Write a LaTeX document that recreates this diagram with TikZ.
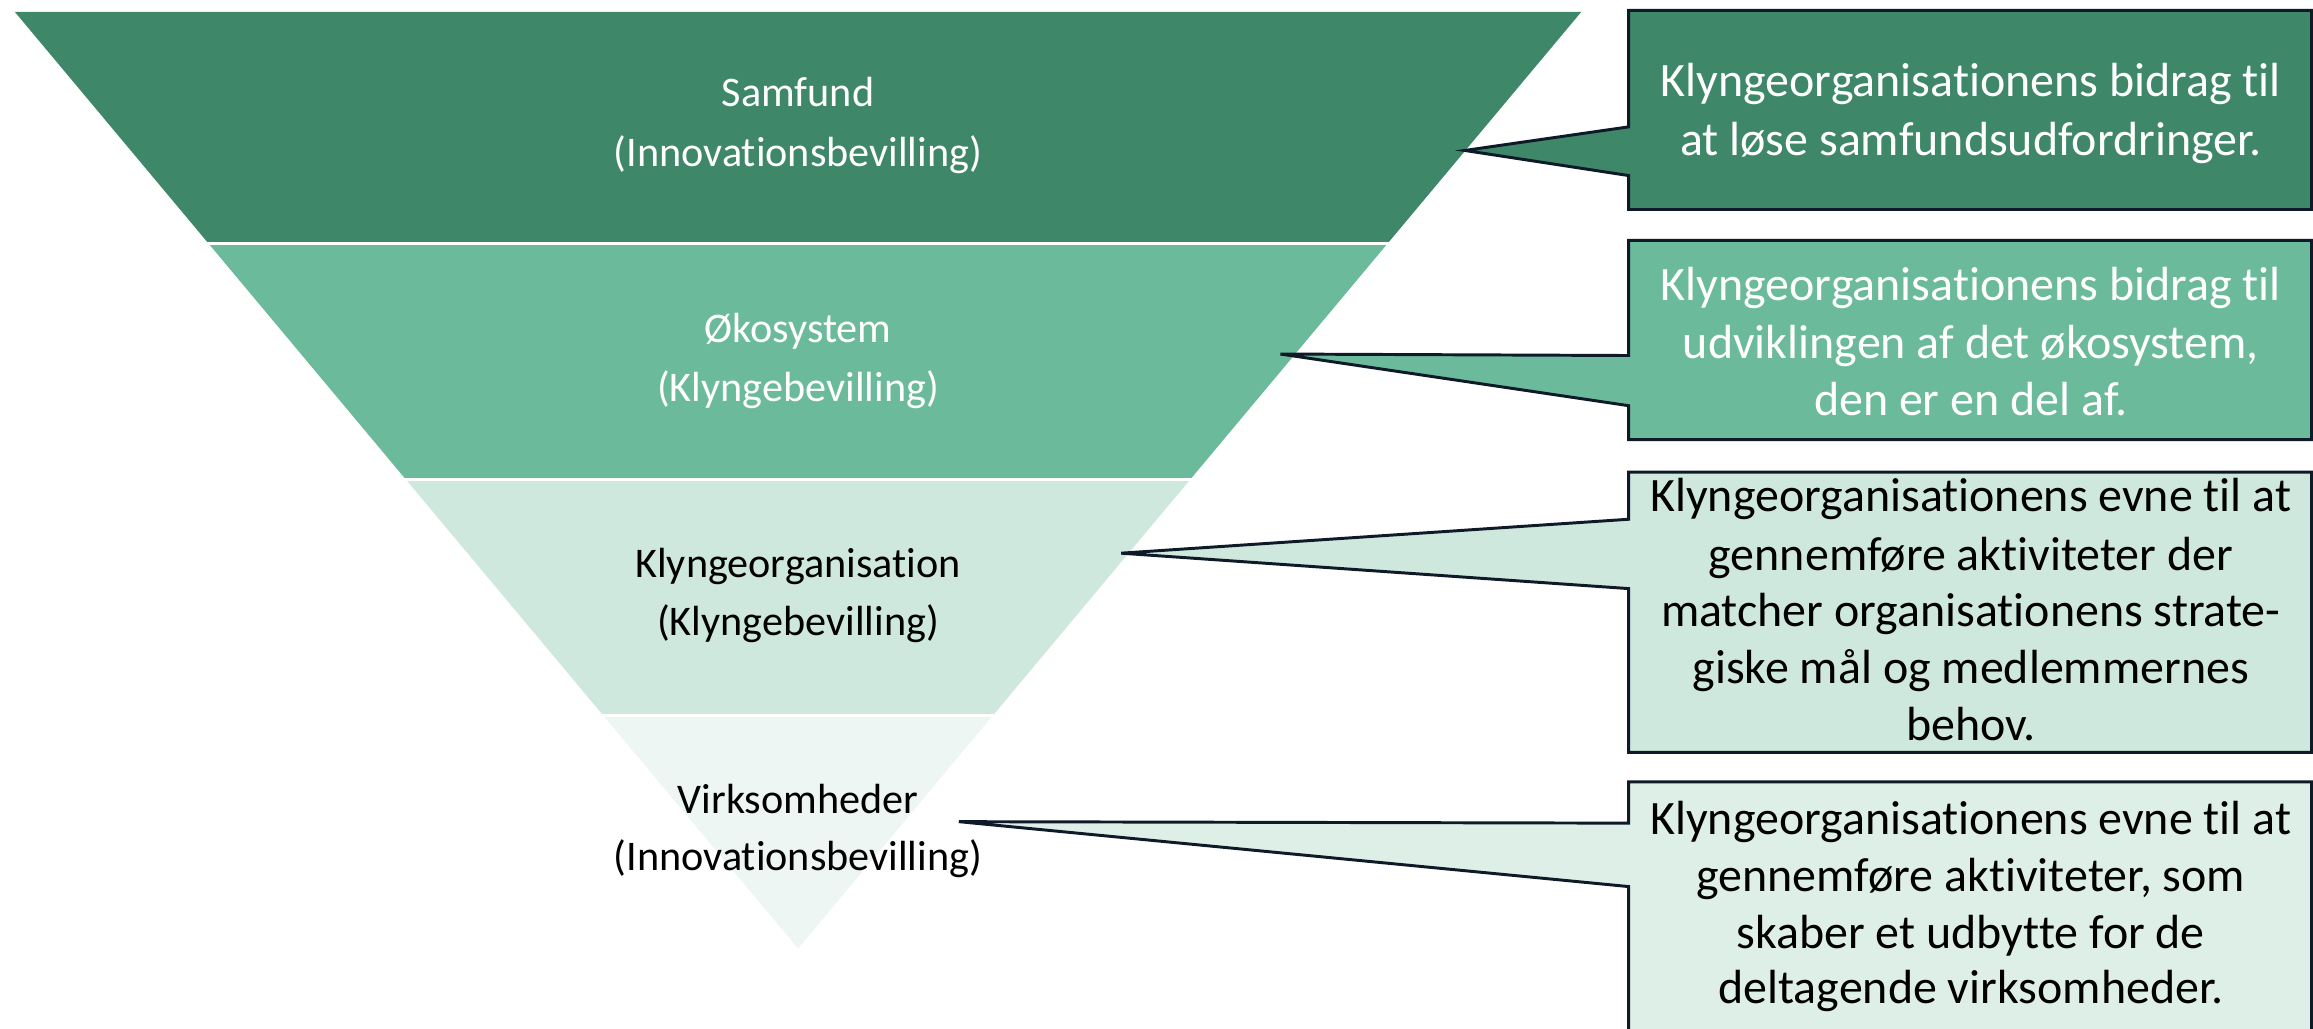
\documentclass[tikz,border=0pt]{standalone}
\usepackage{fontspec}
\setmainfont{Carlito}[Ligatures=NoCommon]
\definecolor{bandA}{HTML}{3E8769}
\definecolor{bandB}{HTML}{6CBA9C}
\definecolor{bandC}{HTML}{CFE8DE}
\definecolor{bandD}{HTML}{EDF6F2}
\definecolor{boxD}{HTML}{DEEFE7}
\definecolor{edge}{HTML}{0E1A28}
\tikzset{
  gap/.style={draw=white, line width=2pt},
  callout/.style={draw=edge, line width=2pt, line join=miter},
  triline/.style={anchor=base, font=\fontsize{28.6}{40}\selectfont, inner sep=0pt},
  boxline/.style={anchor=base, font=\fontsize{32.5}{39}\selectfont, inner sep=0pt},
}
\begin{document}
\begin{tikzpicture}[x=1pt,y=-1pt]
\useasboundingbox (0,0) rectangle (1568,697);
% funnel bands
\fill[bandA] (10,8) -- (1072,8) -- (940.7,165) -- (141.3,165) -- cycle;
\fill[bandB] (141.3,165) -- (940.7,165) -- (806.9,325) -- (275.1,325) -- cycle;
\fill[bandC] (275.1,325) -- (806.9,325) -- (673.1,485) -- (408.9,485) -- cycle;
\fill[bandD] (408.9,485) -- (673.1,485) -- (541,643) -- cycle;
\draw[gap] (130,165) -- (950,165);
\draw[gap] (260,325) -- (820,325);
\draw[gap] (395,485) -- (690,485);
% funnel labels
\node[triline, text=white] (t1a) at (541,72.3) {Samfund};
\node[triline, text=white] (t1b) at (541,113) {(Innovationsbevilling)};
\node[triline, text=white] (t2a) at (541,232) {Økosystem};
\node[triline, text=white] (t2b) at (541,272) {(Klyngebevilling)};
\node[triline, text=black] (t3a) at (541,391.5) {Klyngeorganisation};
\node[triline, text=black] (t3b) at (541,431) {(Klyngebevilling)};
\node[triline, text=black] (t4a) at (541,551.4) {Virksomheder};
\node[triline, text=black] (t4b) at (541,589.8) {(Innovationsbevilling)};
% pointer tips
\coordinate (p1) at (993,102);
\coordinate (p2) at (868,240);
\coordinate (p3) at (760,375);
\coordinate (p4) at (650,557);
% callouts
\filldraw[callout, fill=bandA] (1104,7) -- (1567,7) -- (1567,142) -- (1104,142) -- (1104,119) -- (p1) -- (1104,86) -- cycle;
\filldraw[callout, fill=bandB] (1104,163) -- (1567,163) -- (1567,298) -- (1104,298) -- (1104,275) -- (p2) -- (1104,241) -- cycle;
\filldraw[callout, fill=bandC] (1104,320) -- (1567,320) -- (1567,510) -- (1104,510) -- (1104,399) -- (p3) -- (1104,352) -- cycle;
\filldraw[callout, fill=boxD] (1104,530) -- (1567,530) -- (1567,720) -- (1104,720) -- (1104,601) -- (p4) -- (1104,558) -- cycle;
% callout texts
\node[boxline, text=white] (c1a) at (1336,65.5) {Klyngeorganisationens bidrag til};
\node[boxline, text=white] (c1b) at (1336,105.1) {at løse samfundsudfordringer.};
\node[boxline, text=white] (c2a) at (1336,203.4) {Klyngeorganisationens bidrag til};
\node[boxline, text=white] (c2b) at (1336,243) {udviklingen af det økosystem,};
\node[boxline, text=white] (c2c) at (1336,281.4) {den er en del af.};
\node[boxline, text=black] (c3a) at (1336,346.9) {Klyngeorganisationens evne til at};
\node[boxline, text=black] (c3b) at (1336,386.4) {gennemføre aktiviteter der};
\node[boxline, text=black] (c3c) at (1336,424.9) {matcher organisationens strate-};
\node[boxline, text=black] (c3d) at (1336,463.3) {giske mål og medlemmernes};
\node[boxline, text=black] (c3e) at (1336,501.7) {behov.};
\node[boxline, text=black] (c4a) at (1336,566) {Klyngeorganisationens evne til at};
\node[boxline, text=black] (c4b) at (1336,604.5) {gennemføre aktiviteter, som};
\node[boxline, text=black] (c4c) at (1336,643) {skaber et udbytte for de};
\node[boxline, text=black] (c4d) at (1336,680) {deltagende virksomheder.};
\end{tikzpicture}
\end{document}
